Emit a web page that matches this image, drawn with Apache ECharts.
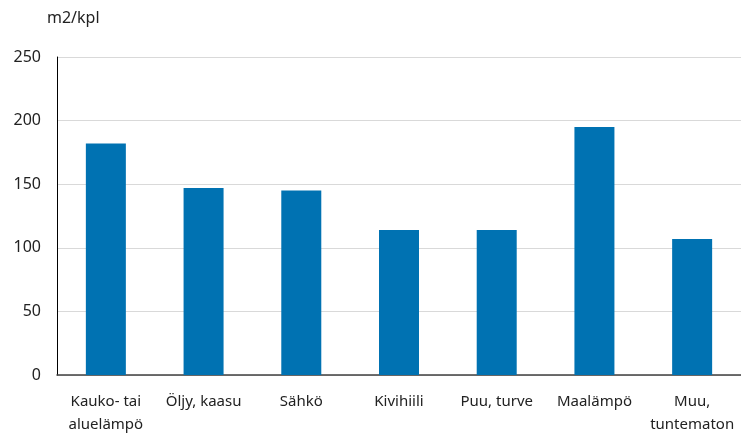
<!DOCTYPE html>
<html>
<head>
<meta charset="utf-8">
<script src="https://cdn.jsdelivr.net/npm/echarts@6/dist/echarts.min.js"></script>
<style>
  html, body { margin: 0; padding: 0; background: #fff; }
  #chart { width: 741px; height: 436px; }
</style>
</head>
<body>
<div id="chart"></div>
<script>
  // lämmitysmuodot ja keskipinta-alat
  const categories = ['Kauko- tai\naluelämpö', 'Öljy, kaasu', 'Sähkö', 'Kivihiili', 'Puu, turve', 'Maalämpö', 'Muu,\ntuntematon'];
  const values = [182, 147, 145, 114, 114, 195, 107];
  const unitLabel = 'm2/kpl';

  const chart = echarts.init(document.getElementById('chart'));
  const font = '"Noto Sans", "Open Sans", sans-serif';

  chart.setOption({
    animation: false,
    textStyle: { fontFamily: font },
    grid: { left: 57, right: 0, top: 57, bottom: 57 },
    graphic: [{
      type: 'text',
      left: 47,
      top: 10,
      style: { text: unitLabel, font: '16px ' + font, fill: '#222' }
    }],
    xAxis: {
      type: 'category',
      data: categories,
      axisLine: { lineStyle: { color: '#404040', width: 1.5 } },
      axisTick: { show: false },
      axisLabel: {
        color: '#222',
        fontSize: 15,
        margin: 15,
        lineHeight: 23,
        interval: 0
      }
    },
    yAxis: {
      type: 'value',
      min: 0,
      max: 250,
      interval: 50,
      axisLine: { show: true, lineStyle: { color: '#000', width: 1 } },
      axisTick: { show: false },
      axisLabel: { color: '#222', fontSize: 16, margin: 16 },
      splitLine: { lineStyle: { color: '#d9d9d9', width: 1 } }
    },
    series: [{
      type: 'bar',
      data: values,
      barWidth: 40,
      itemStyle: { color: '#0072b2' }
    }]
  });
</script>
</body>
</html>
